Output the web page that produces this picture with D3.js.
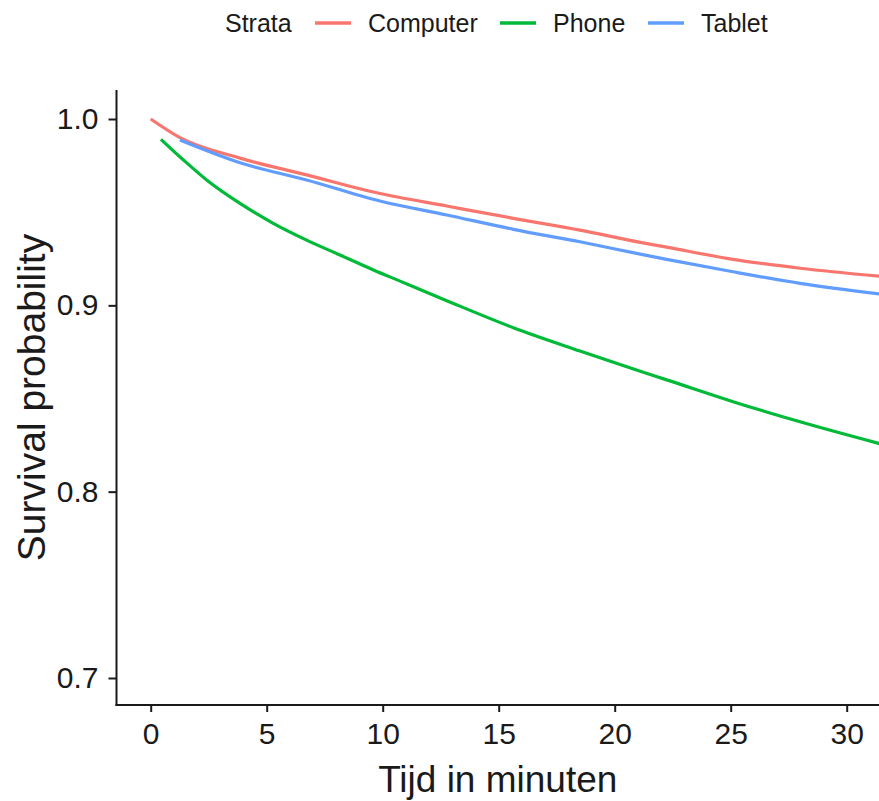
<!DOCTYPE html>
<html>
<head>
  <meta charset="utf-8">
  <title>Survival probability</title>
  <script src="https://d3js.org/d3.v7.min.js"></script>
  <style>
    body { margin: 0; background: #fff; }
    svg text { font-family: "Liberation Sans", Arial, sans-serif; fill: #1a1a1a; }
    .axis path, .axis line { stroke: #1a1a1a; stroke-width: 2; }
  </style>
</head>
<body>
<div id="chart"></div>
<script>
  "use strict"

  // legenda / categorias
  var strata = ["Computer", "Phone", "Tablet"];
  var kleuren = ["#F8766D", "#00BA38", "#619CFF"];

  // tijden en overlevingskansen
  var tijdComputer = [0, 1.26, 3.85, 6.72, 9.88, 12.76, 15.63, 18.5, 21.1, 22.24, 25.1, 27.99, 31.5];
  var kansComputer = [1.0, 0.990, 0.979, 0.970, 0.960, 0.9533, 0.9467, 0.9404, 0.9338, 0.9312, 0.9247, 0.9199, 0.9155];

  var tijdPhone = [0.44, 1.41, 2.41, 3.85, 5.28, 6.72, 8.16, 9.6, 10.75, 12.76, 15.63, 18.5, 21.1, 22.24, 25.1, 27.99, 31.5];
  var kansPhone = [0.9891, 0.978, 0.9673, 0.9547, 0.944, 0.935, 0.927, 0.919, 0.913, 0.9025, 0.888, 0.8755, 0.8646, 0.86, 0.8483, 0.8375, 0.8255];

  var tijdTablet = [1.26, 3.85, 6.72, 9.88, 12.76, 15.63, 18.5, 21.1, 22.24, 25.1, 27.99, 31.5];
  var kansTablet = [0.9887, 0.9765, 0.9673, 0.956, 0.9485, 0.9408, 0.9341, 0.9275, 0.9247, 0.918, 0.9118, 0.906];

  var xTicks = [0, 5, 10, 15, 20, 25, 30];
  var yTicks = [0.7, 0.8, 0.9, 1.0];

  var reeksen = [
    {naam: strata[0], tijd: tijdComputer, kans: kansComputer},
    {naam: strata[1], tijd: tijdPhone, kans: kansPhone},
    {naam: strata[2], tijd: tijdTablet, kans: kansTablet}
  ];

  var breedte = 879, hoogte = 801;
  var paneel = {left: 116.5, right: 879, top: 90, bottom: 705};

  var svg = d3.select("#chart").append("svg")
      .attr("width", breedte)
      .attr("height", hoogte);

  var x = d3.scaleLinear().domain([0, 30]).range([150.7, 846.7]);
  var y = d3.scaleLinear().domain([0.7, 1.0]).range([678, 119]);
  var kleur = d3.scaleOrdinal().domain(strata).range(kleuren);

  svg.append("clipPath").attr("id", "clip")
    .append("rect")
    .attr("x", paneel.left).attr("y", paneel.top)
    .attr("width", paneel.right - paneel.left)
    .attr("height", paneel.bottom - paneel.top);

  var lijn = d3.line()
      .x(d => x(d[0]))
      .y(d => y(d[1]))
      .curve(d3.curveMonotoneX);

  svg.append("g").attr("clip-path", "url(#clip)")
    .selectAll("path")
    .data(reeksen)
    .enter()
    .append("path")
    .attr("fill", "none")
    .attr("stroke", d => kleur(d.naam))
    .attr("stroke-width", 3.2)
    .attr("stroke-linejoin", "round")
    .attr("d", d => lijn(d.tijd.map((t, i) => [t, d.kans[i]])));

  // assen
  var xAs = svg.append("g")
      .attr("class", "axis")
      .attr("transform", "translate(0," + paneel.bottom + ")")
      .call(d3.axisBottom(x).tickValues(xTicks).tickSize(7).tickPadding(11).tickFormat(d3.format("d")));
  xAs.select(".domain").attr("d", "M" + (paneel.left - 1) + ",0H" + paneel.right);
  xAs.selectAll("text").style("font-size", "30px").attr("fill", "#1a1a1a");

  var yAs = svg.append("g")
      .attr("class", "axis")
      .attr("transform", "translate(" + paneel.left + ",0)")
      .call(d3.axisLeft(y).tickValues(yTicks).tickSize(8).tickPadding(10).tickFormat(d3.format(".1f")));
  yAs.select(".domain").attr("d", "M0," + paneel.top + "V" + (paneel.bottom + 1));
  yAs.selectAll("text").style("font-size", "30px").attr("fill", "#1a1a1a");

  // astitels
  svg.append("text")
    .attr("x", (paneel.left + paneel.right) / 2)
    .attr("y", 792)
    .attr("text-anchor", "middle")
    .style("font-size", "37px")
    .text("Tijd in minuten");

  svg.append("text")
    .attr("transform", "translate(45," + ((paneel.top + paneel.bottom) / 2) + ") rotate(-90)")
    .attr("text-anchor", "middle")
    .style("font-size", "39px")
    .text("Survival probability");

  // legenda bovenaan
  var legenda = svg.append("g").attr("transform", "translate(0,23)");
  legenda.append("text")
    .attr("x", 225).attr("y", 0).attr("dy", "0.35em")
    .style("font-size", "25px")
    .text("Strata");

  var legX = [315, 500, 648];
  strata.forEach(function(s, i) {
    legenda.append("line")
      .attr("x1", legX[i]).attr("x2", legX[i] + 36)
      .attr("y1", 0).attr("y2", 0)
      .attr("stroke", kleur(s))
      .attr("stroke-width", 3.5);
    legenda.append("text")
      .attr("x", legX[i] + 53).attr("y", 0).attr("dy", "0.35em")
      .style("font-size", "25px")
      .text(s);
  });
</script>
</body>
</html>
